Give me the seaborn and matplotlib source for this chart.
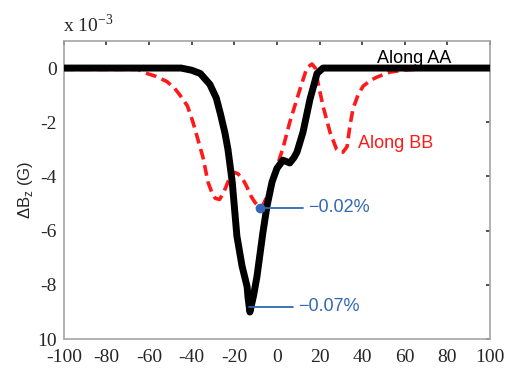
import numpy as np
import pandas as pd
import matplotlib
matplotlib.use("Agg")
import matplotlib.pyplot as plt
import seaborn as sns

# Profile along AA (black, solid)
aa_x = [-100, -45, -40, -36, -31.5, -28.5, -26.5, -24.4, -23, -21, -18.8, -16.4,
        -14, -13.6, -12.7, -11, -9.4, -6.6, -4.7, -2.3, 0, 2.8, 6, 8, 9.4,
        12.2, 15.5, 18.8, 21.6, 100]
aa_y = [0, 0, -0.08, -0.2, -0.6, -1.1, -1.7, -2.4, -3.0, -4.2, -6.2, -7.3,
        -8.07, -8.45, -9.0, -8.4, -7.7, -6.07, -5.1, -4.2, -3.7, -3.4, -3.5, -3.3, -3.1,
        -2.37, -1.15, -0.2, 0, 0]

# Profile along BB (red, dashed)
bb_x = [-100, -65, -63, -57, -51.6, -48, -45.5, -42, -39.4, -36.5, -34.7, -32.4,
        -30.5, -29, -27, -25.8, -24, -22, -20, -18.3, -16, -14, -12, -10.3, -8,
        -6.5, -4.7, -1.9, 1.4, 3, 6, 10.8, 14, 16.4, 18, 19.2, 21.6, 24.9, 28,
        29.6, 31, 32.9, 34.3, 35.7, 38, 40.4, 44, 47, 53, 59, 66, 72, 100]
bb_y = [-0.05, -0.05, -0.15, -0.3, -0.5, -0.75, -1.0, -1.4, -2.0, -2.8, -3.3, -4.2,
        -4.6, -4.8, -4.85, -4.7, -4.4, -4.0, -3.85, -3.9, -4.1, -4.4, -4.75, -4.96, -5.15,
        -5.05, -4.74, -4.1, -3.3, -2.9, -2.0, -0.78, 0.0, 0.15, 0.0, -0.52, -1.4, -2.37, -3.0,
        -3.1, -3.1, -2.9, -2.1, -1.5, -1.0, -0.67, -0.45, -0.33, -0.15, -0.08, -0.04, 0, 0]

# Annotations: (x of marked point, y, end of leader line, label, draw dot)
ann_pts = [(-8, -5.15, 12.2, "\u22120.02%", True),
           (-13, -8.8, 7.5, "\u22120.07%", False)]

x_ticks = [-100, -80, -60, -40, -20, 0, 20, 40, 60, 80, 100]
y_ticks = [-10, -8, -6, -4, -2, 0]
y_ticklabels = ["10", "-8", "-6", "-4", "-2", "0"]

sns.set_style("white")
plt.rcParams["axes.unicode_minus"] = False

df_aa = pd.DataFrame({"x": aa_x, "y": aa_y})
df_bb = pd.DataFrame({"x": bb_x, "y": bb_y})

fig = plt.figure(figsize=(5.11, 3.69), dpi=100)
ax = fig.add_axes([0.125, 0.081, 0.834, 0.808])

sns.lineplot(data=df_bb, x="x", y="y", sort=False, color="#ff1a1a", linewidth=2.6,
             linestyle=(0, (3, 1.6)), ax=ax, zorder=2)
sns.lineplot(data=df_aa, x="x", y="y", sort=False, color="black", linewidth=5,
             ax=ax, zorder=3, solid_capstyle="round")

blue = "#3267b5"
for px, py, ex, lab, dot in ann_pts:
    ax.plot([px, ex], [py, py], color=blue, linewidth=1.3, zorder=4)
    if dot:
        ax.plot(px, py, "o", color=blue, markersize=6, zorder=5)
    ax.text(ex + 2.3, py, lab, color=blue, fontsize=13, va="center",
            family="Liberation Sans")

ax.text(47, 0.37, "Along AA", color="black", fontsize=13, va="center",
        family="Liberation Sans")
ax.text(38, -2.8, "Along BB", color="#ff1a1a", fontsize=13, va="center",
        family="Liberation Sans")

ax.set_xlim(-100, 100)
ax.set_ylim(-10, 1)
ax.set_xticks(x_ticks)
ax.set_yticks(y_ticks)
ax.set_yticklabels(y_ticklabels)
ax.set_xlabel("")
ax.set_ylabel("\u0394B$_{\\mathregular{z}}$ (G)", fontsize=12, family="Liberation Sans",
              labelpad=2)

for lab in ax.get_xticklabels() + ax.get_yticklabels():
    lab.set_family("Liberation Serif")
    lab.set_fontsize(14)

ax.tick_params(axis="both", direction="in", length=3, width=1.2, color="#333333",
               top=True, right=True)
ax.tick_params(axis="x", pad=7)
ax.tick_params(axis="y", pad=5)
for sp in ax.spines.values():
    sp.set_color("#a6a6a6")
    sp.set_linewidth(1.2)

fig.text(63 / 511, 1 - 25 / 369, "x 10$^{\\mathregular{-3}}$", fontsize=14,
         family="Liberation Serif", va="center", ha="left")

fig.savefig("out.png", dpi=100)
